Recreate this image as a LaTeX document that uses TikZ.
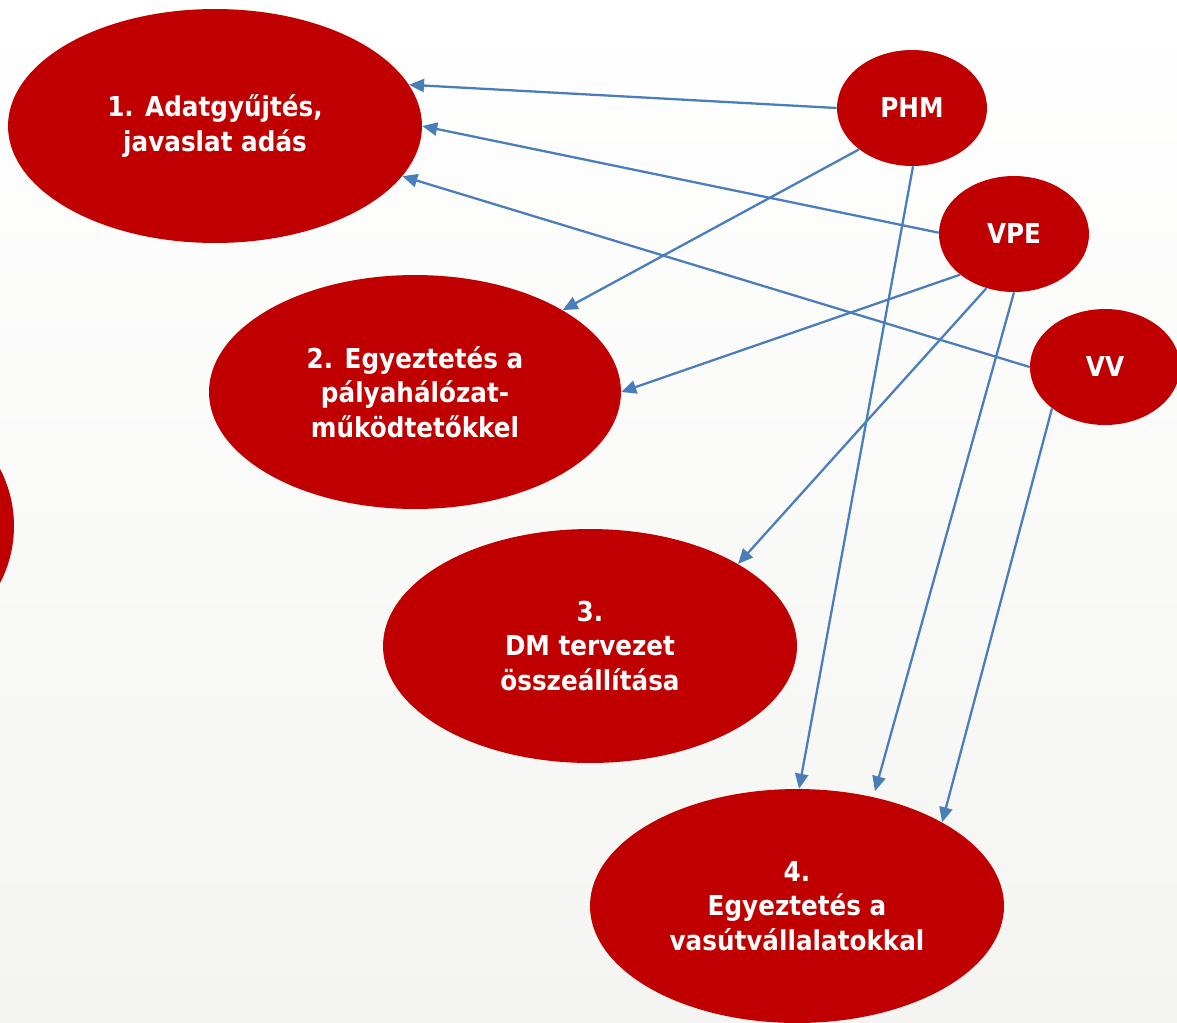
\documentclass[tikz,border=0pt]{standalone}
\usepackage{fontspec}
\setmainfont{DejaVu Sans}[FakeStretch=0.9]
\usetikzlibrary{shapes.geometric,arrows.meta}
\definecolor{ered}{HTML}{C00000}
\definecolor{ablue}{HTML}{4A7EBB}
\definecolor{bgA}{HTML}{FFFFFF}
\definecolor{bgB}{HTML}{F4F4F2}
\tikzset{
  bigell/.style={ellipse, fill=ered, draw=none, inner sep=0pt,
    minimum width=8.28cm, minimum height=4.68cm, text=white,
    font=\fontsize{15.6}{19.6}\selectfont\bfseries, align=center},
  smallell/.style={ellipse, fill=ered, draw=none, inner sep=0pt,
    minimum width=3.0cm, minimum height=2.32cm, text=white,
    font=\fontsize{15.6}{19.6}\selectfont\bfseries},
  conn/.style={draw=ablue, line width=1.3pt,
    -{Triangle[length=8.5pt,width=7.5pt]}}
}
\begin{document}
\begin{tikzpicture}[x=0.02cm,y=-0.02cm]
\useasboundingbox (0,0) rectangle (1177,1022);
\clip (0,0) rectangle (1177,1022);
\shade[top color=bgA, bottom color=bgB] (0,0) rectangle (1177,1022);
% partial ellipse at the left edge
\node[ellipse, fill=ered, inner sep=0pt, minimum width=4.4cm, minimum height=4.68cm] (E0) at (-96,526) {};
% big steps
\node[bigell] (E1) at (215,126) {1. Adatgyűjtés,\\javaslat adás};
\node[bigell, minimum width=8.24cm] (E2) at (415,392) {2. Egyeztetés a\\pályahálózat-\\működtetőkkel};
\node[bigell] (E3) at (590,646) {3.\\DM tervezet\\összeállítása};
\node[bigell] (E4) at (797,906) {4.\\Egyeztetés a\\vasútvállalatokkal};
% actors
\node[smallell] (PHM) at (912,108) {PHM};
\node[smallell] (VPE) at (1014,234) {VPE};
\node[smallell] (VV) at (1105,367) {VV};
% connectors
\draw[conn] (PHM.180) -- (E1.12);
\draw[conn] (VPE.179) -- (E1.0);
\draw[conn] (VV.180) -- (E1.345);
\draw[conn] (PHM.218) -- (E2.29);
\draw[conn] (VPE.217) -- (E2.0);
\draw[conn] (VPE.243) -- (E3.29);
\draw[conn] (PHM.271) -- (E4.89);
\draw[conn, shorten >=0.12cm] (VPE.270) -- (E4.55);
\draw[conn] (VV.218) -- (E4.30);
\end{tikzpicture}
\end{document}
